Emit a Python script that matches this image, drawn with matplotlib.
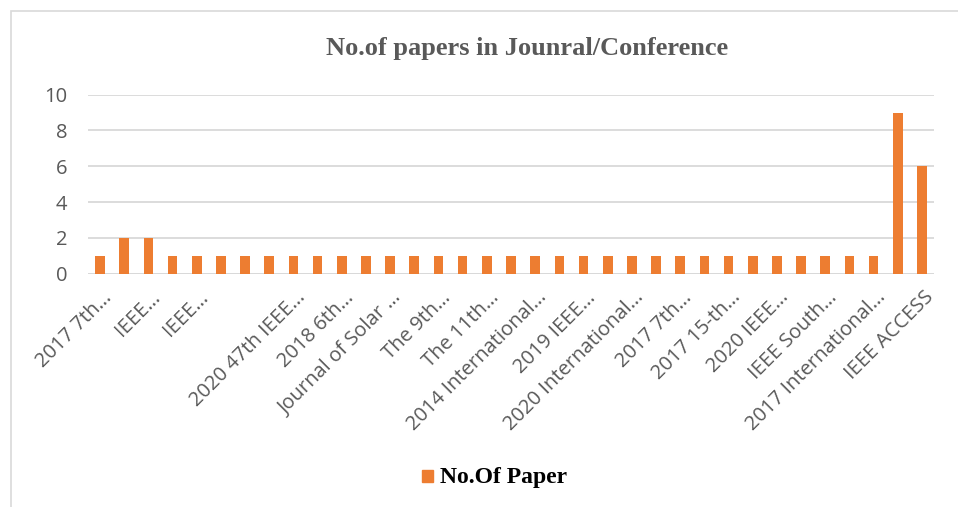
import matplotlib.pyplot as plt
import matplotlib.patches as mpatches
import matplotlib.transforms as mtrans
import numpy as np

# values, one per journal/conference (35 bars)
papers = [1, 2, 2] + [1] * 30 + [9, 6]
# only every other category name is printed on the axis
shown_labels = ["2017 7th\u2026", "IEEE\u2026", "IEEE\u2026", "",
                "2020 47th IEEE\u2026", "2018 6th\u2026", "Journal of Solar \u2026",
                "The 9th\u2026", "The 11th\u2026", "2014 International\u2026",
                "2019 IEEE\u2026", "2020 International\u2026", "2017 7th\u2026",
                "2017 15-th\u2026", "2020 IEEE\u2026", "IEEE South\u2026",
                "2017 International\u2026", "IEEE ACCESS"]
yticks = [0, 2, 4, 6, 8, 10]

W, H = 958, 507
fig = plt.figure(figsize=(W/100, H/100), dpi=100)
orange = "#ED7D31"
grey = "#595959"

# outer chart border
fig.patches.append(mpatches.Rectangle((11/W, -0.1), 1.2, 1.1 - 11/H,
                   transform=fig.transFigure, fill=False,
                   edgecolor="#D9D9D9", linewidth=1.2))

ax = fig.add_axes([88/W, 1 - 273.7/H, (934-88)/W, (273.7-94.7)/H])
x = np.arange(len(papers))
ax.bar(x, papers, width=0.4, color=orange, zorder=3)
ax.set_xlim(-0.5, len(papers) - 0.5)
ax.set_ylim(0, 10)
ax.set_yticks(yticks)
ax.set_yticklabels([str(t) for t in yticks], fontsize=14.5, color=grey,
                   family="Open Sans")
ax.yaxis.grid(True, color="#D9D9D9", linewidth=1.3, zorder=0)
ax.tick_params(length=0, pad=15)
for s in ax.spines.values():
    s.set_visible(False)
ax.axhline(0, color="#D9D9D9", linewidth=1.3, zorder=2)

ax.set_xticks(x[::2])
ax.set_xticklabels(shown_labels, rotation=45, ha="right", va="top",
                   fontsize=14.5, color=grey, family="Open Sans")
ax.tick_params(axis="x", pad=10)
for lbl in ax.get_xticklabels():
    lbl.set_transform(lbl.get_transform() +
                      mtrans.ScaledTranslation(0.16, 0, fig.dpi_scale_trans))

fig.text(527/W, 1 - 49/H, "No.of papers in Jounral/Conference", ha="center",
         va="center", fontsize=19, fontweight="bold", color=grey,
         family="Liberation Serif")

# legend
fig.patches.append(mpatches.Rectangle((422/W, 1 - 482/H), 11/W, 12/H,
                   transform=fig.transFigure, color=orange))
fig.text(440/W, 1 - 477/H, "No.Of Paper", ha="left", va="center",
         fontsize=17, fontweight="bold", color="black", family="Liberation Serif")

fig.savefig("out.png", dpi=100)
